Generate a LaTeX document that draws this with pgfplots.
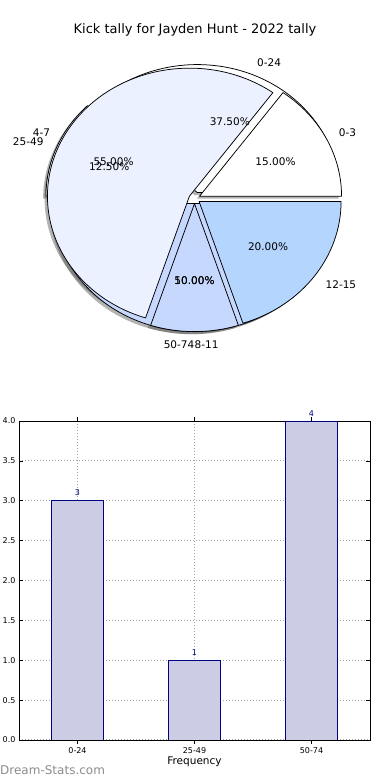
\documentclass[border=0pt]{standalone}
\usepackage{pgfplots}
\pgfplotsset{compat=1.18}
\usepackage{fontspec}
\setmainfont{DejaVu Sans}
\definecolor{cA}{HTML}{FFFFFF}
\definecolor{cB}{HTML}{EBF1FE}
\definecolor{cC}{HTML}{C6D8FE}
\definecolor{cD}{HTML}{B3D5FE}
\definecolor{barfill}{HTML}{CCCCE5}
\definecolor{navy}{HTML}{000080}
\definecolor{wm}{HTML}{8C8C8C}
% pie geometry: 1 axis unit = 142pt in x, 128pt in y
\newcommand\RX{142pt}
\newcommand\RY{128pt}
% #1 start (percent), #2 share (percent), #3 explode, #4 fill
\newcommand\pieslice[4]{\pgfplotsextra{%
 \pgfmathsetmacro\sa{3.6*#1}%
 \pgfmathsetmacro\ea{3.6*(#1+#2)}%
 \pgfmathsetmacro\ma{(\sa+\ea)/2}%
 \pgfmathsetmacro\ox{#3*cos(\ma)}%
 \pgfmathsetmacro\oy{#3*sin(\ma)}%
 \pgfmathsetmacro\bx{\ox+cos(\sa)}%
 \pgfmathsetmacro\by{\oy+sin(\sa)}%
 \filldraw[fill=#4, draw=black, line width=0.75pt, line join=round]
   (axis cs:\ox,\oy) -- (axis cs:\bx,\by)
   arc[start angle=\sa, end angle=\ea, x radius=\RX, y radius=\RY] -- cycle;
}}
\newcommand\pieshadow[3]{\pgfplotsextra{%
 \pgfmathsetmacro\sa{3.6*#1}%
 \pgfmathsetmacro\ea{3.6*(#1+#2)}%
 \pgfmathsetmacro\ma{(\sa+\ea)/2}%
 \pgfmathsetmacro\ox{#3*cos(\ma)-0.02}%
 \pgfmathsetmacro\oy{#3*sin(\ma)-0.02}%
 \pgfmathsetmacro\bx{\ox+cos(\sa)}%
 \pgfmathsetmacro\by{\oy+sin(\sa)}%
 \fill[black!75, opacity=0.4]
   (axis cs:\ox,\oy) -- (axis cs:\bx,\by)
   arc[start angle=\sa, end angle=\ea, x radius=\RX, y radius=\RY] -- cycle;
}}
% #1 start, #2 share, #3 explode, #4 distance, #5 anchor, #6 text
\newcommand\pietext[6]{\pgfplotsextra{%
 \pgfmathsetmacro\ma{3.6*(#1+#2/2)}%
 \pgfmathsetmacro\tx{#3*cos(\ma)+#4*cos(\ma)}%
 \pgfmathsetmacro\ty{#3*sin(\ma)+#4*sin(\ma)}%
 \node[anchor=#5, inner sep=0pt, font=\fontsize{10.5}{12}\selectfont] at (axis cs:\tx,\ty) {#6};
}}
\begin{document}
\begin{tikzpicture}
\path[use as bounding box] (0,0) rectangle (390pt,780pt);
\node[font=\fontsize{13}{15}\selectfont] at (195pt,750pt) {Kick tally for Jayden Hunt - 2022 tally};
% ---------- pie ----------
\begin{axis}[at={(52.5pt,453.5pt)}, anchor=south west, scale only axis,
  width=284pt, height=256pt, xmin=-1, xmax=1, ymin=-1, ymax=1,
  hide axis, clip=false]
% shadows (pie 1: 37.5, 12.5, 50 ; pie 2: 15, 55, 10, 20)
\pieshadow{0}{37.5}{0.05}
\pieshadow{37.5}{12.5}{0.05}
\pieshadow{50}{50}{0.04}
\pieshadow{0}{15}{0.04}
\pieshadow{15}{55}{0.04}
\pieshadow{70}{10}{0.04}
\pieshadow{80}{20}{0.04}
% pie 1
\pieslice{0}{37.5}{0.05}{cA}
\pieslice{37.5}{12.5}{0.05}{cB}
\pieslice{50}{50}{0.04}{cC}
% pie 2
\pieslice{0}{15}{0.04}{cA}
\pieslice{15}{55}{0.04}{cB}
\pieslice{70}{10}{0.04}{cC}
\pieslice{80}{20}{0.04}{cD}
% labels pie 1
\pietext{0}{37.5}{0.05}{1.1}{west}{0-24}
\pietext{37.5}{12.5}{0.05}{1.1}{east}{25-49}
\pietext{50}{50}{0.04}{1.1}{east}{50-74}
\pietext{0}{37.5}{0.05}{0.6}{center}{37.50\%}
\pietext{37.5}{12.5}{0.05}{0.6}{center}{12.50\%}
\pietext{50}{50}{0.04}{0.6}{center}{50.00\%}
% labels pie 2
\pietext{0}{15}{0.04}{1.1}{west}{0-3}
\pietext{15}{55}{0.04}{1.1}{east}{4-7}
\pietext{70}{10}{0.04}{1.1}{west}{8-11}
\pietext{80}{20}{0.04}{1.1}{west}{12-15}
\pietext{0}{15}{0.04}{0.6}{center}{15.00\%}
\pietext{15}{55}{0.04}{0.6}{center}{55.00\%}
\pietext{70}{10}{0.04}{0.6}{center}{10.00\%}
\pietext{80}{20}{0.04}{0.6}{center}{20.00\%}
\end{axis}
% ---------- bars ----------
\begin{axis}[at={(19pt,40pt)}, anchor=south west, scale only axis,
  width=351pt, height=319pt,
  xmin=-0.5, xmax=2.5, ymin=0, ymax=4,
  xtick={0,1,2}, xticklabels={0-24,25-49,50-74},
  ytick={0,0.5,...,4},
  yticklabel style={/pgf/number format/.cd, fixed, fixed zerofill, precision=1},
  /pgf/number format/assume math mode=true,
  ticklabel style={font=\fontsize{8}{9}\selectfont},
  grid=major, grid style={dash pattern=on 1pt off 2pt, black!35, line width=1pt},
  major tick length=4pt, tick align=inside, tick style={black, line width=0.6pt},
  axis line style={black, line width=0.8pt},
  xlabel={Frequency}, xlabel style={font=\fontsize{10.5}{12}\selectfont, yshift=4pt},
  ybar, bar width=52pt]
\addplot[fill=barfill, draw=navy, line width=0.8pt,
  nodes near coords,
  nodes near coords style={font=\fontsize{8}{9}\selectfont, text=navy, yshift=1pt}]
  coordinates {(0,3) (1,1) (2,4)};
\end{axis}
\node[anchor=west, inner sep=0pt, text=wm, font=\fontsize{12}{14}\selectfont] at (0pt,10pt) {Dream-Stats.com};
\end{tikzpicture}
\end{document}
